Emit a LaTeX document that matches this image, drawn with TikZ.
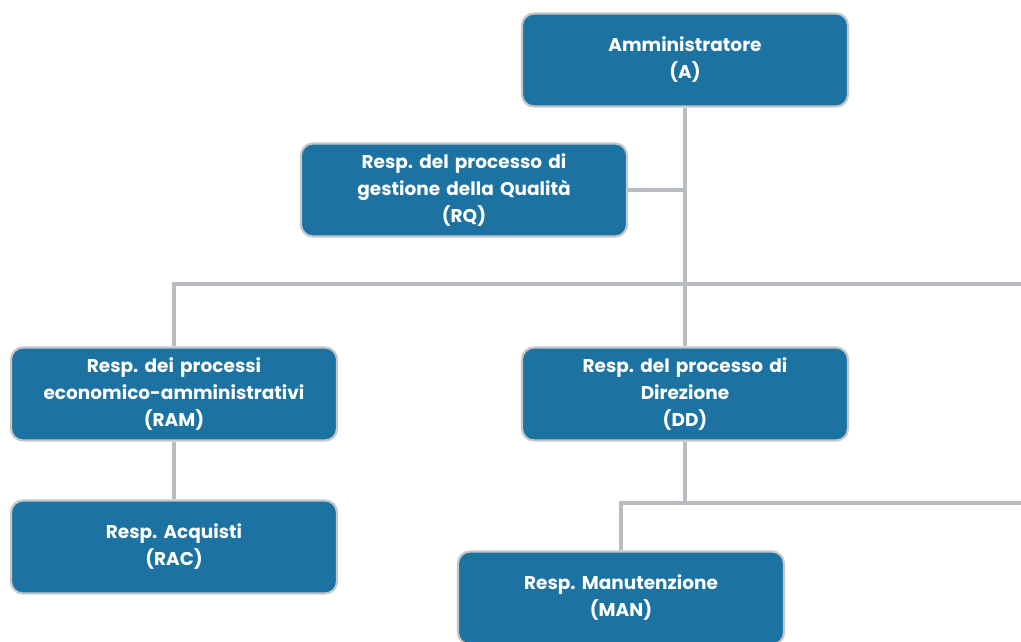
\documentclass[tikz,border=0pt]{standalone}
\usepackage{fontspec}
\setmainfont{Poppins}
\usepackage{xcolor}
\usetikzlibrary{positioning,backgrounds}
\definecolor{boxblue}{HTML}{1C72A0}
\definecolor{boxedge}{HTML}{C3C6CA}
\definecolor{linkgray}{HTML}{B9BCC0}
\frenchspacing

\begin{document}
\begin{tikzpicture}[x=1pt,y=-1pt,
    role/.style={draw=boxedge,line width=2.2pt,fill=boxblue,rounded corners=12pt,
        minimum width=326pt,minimum height=93pt,text width=310pt,align=center,
        text=white,font=\fontsize{18.5}{27}\selectfont\bfseries},
    link/.style={draw=linkgray,line width=3.5pt}]
        \clip (0,0) rectangle (1021,641);
        % roles
        \node[role] (amm) at (685,60) {Amministratore\\(A)};
        \node[role] (rq) at (464,190) {Resp. del processo di\\gestione della Qualità\\(RQ)};
        \node[role] (ram) at (174,394) {Resp. dei processi\\economico-amministrativi\\(RAM)};
        \node[role] (dd) at (685,394) {Resp. del processo di\\Direzione\\(DD)};
        \node[role] (rac) at (174,547) {Resp. Acquisti\\(RAC)};
        \node[role] (man) at (621,598) {Resp. Manutenzione\\(MAN)};
        % org chart links
        \coordinate (edge) at (1021,284);
        \coordinate (medge) at (1021,503);
        \begin{scope}[on background layer]
        \draw[link] (amm.south) -- (dd.north);
        \draw[link] (ram.north) |- (edge);
        \draw[link] (rq.east) -- (rq.east -| amm.south);
        \draw[link] (ram.south) -- (rac.north);
        \draw[link] (dd.south) |- (medge);
        \draw[link] (man.north) |- (medge);
        \end{scope}
    \end{tikzpicture}
\end{document}
